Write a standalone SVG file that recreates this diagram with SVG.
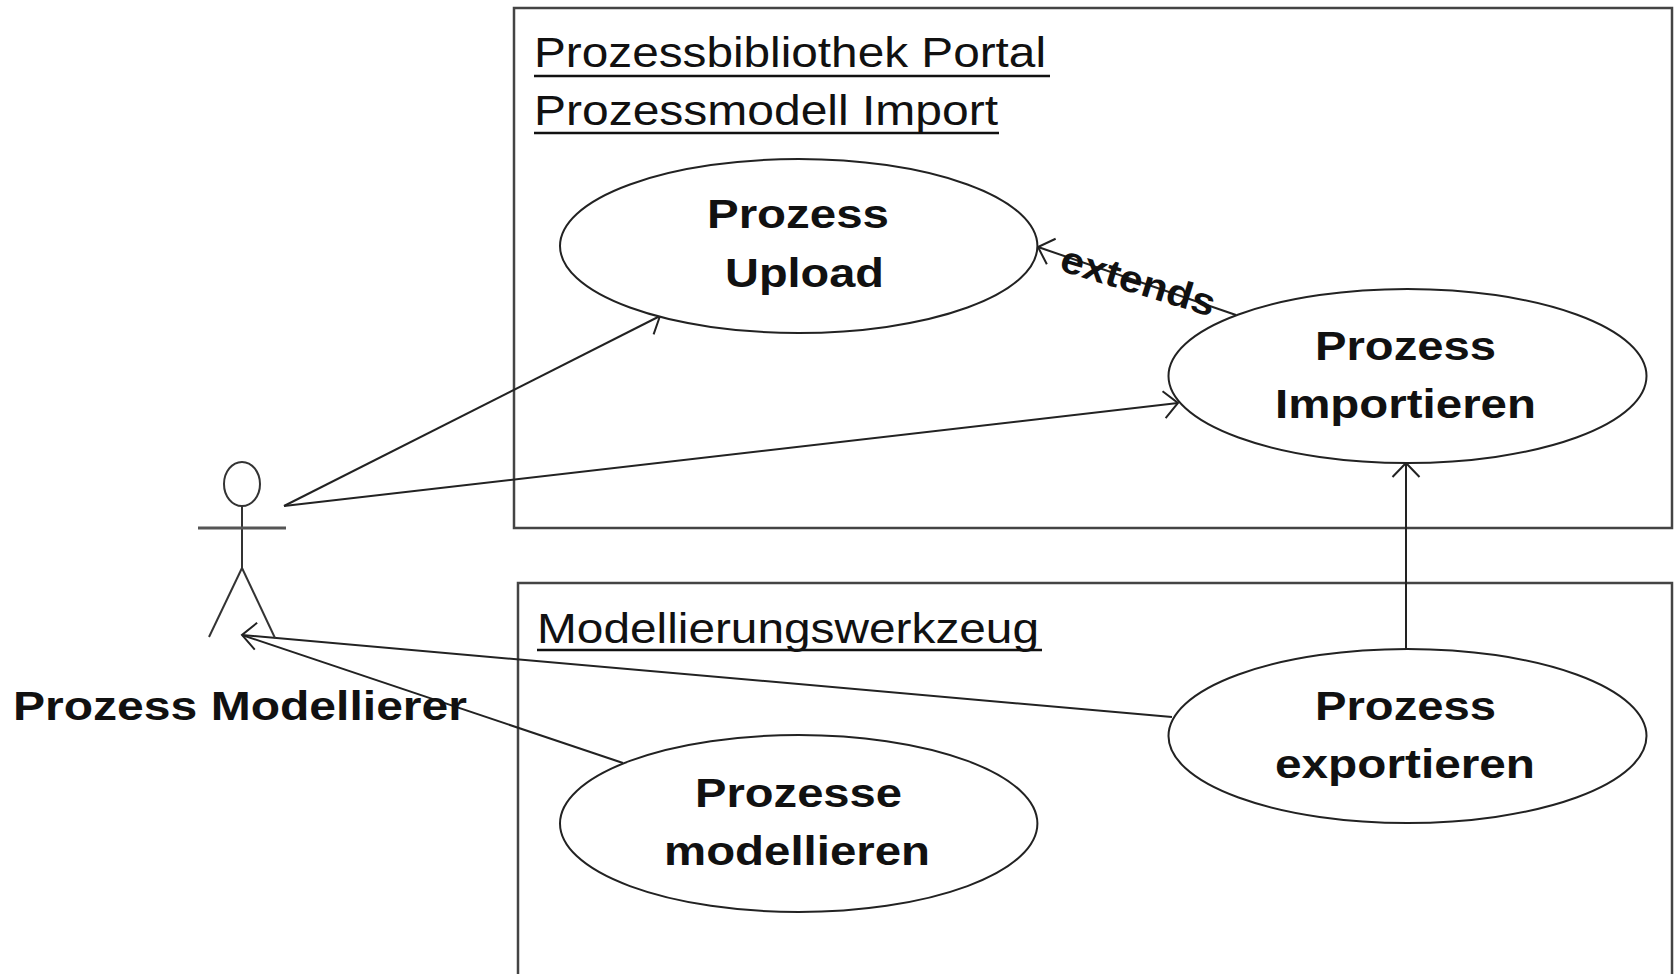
<svg xmlns="http://www.w3.org/2000/svg" width="1677" height="974" viewBox="0 0 1677 974">
<style>
.box{fill:none;stroke:#444;stroke-width:2.5}
.uc{fill:#fff;stroke:#222;stroke-width:2}
.title{font-family:"Liberation Sans",Arial,sans-serif;font-size:43px;fill:#111}
.ul{stroke:#111;stroke-width:2.5}
.lbl{font-family:"Liberation Sans",Arial,sans-serif;font-size:41px;font-weight:bold;fill:#111}
.conn{fill:none;stroke:#222;stroke-width:2}
.actor{fill:none;stroke:#333;stroke-width:2}
</style>
<defs>
<marker id="open" markerUnits="userSpaceOnUse" markerWidth="20" markerHeight="30" refX="14" refY="0" viewBox="-2 -15 20 30" orient="auto" overflow="visible">
<path d="M0,-13.5 L14,0 L0,13.5" fill="none" stroke="#222" stroke-width="2"/>
</marker>
</defs>
<rect width="1677" height="974" fill="#fff"/>

<g id="portal">
<rect class="box" x="514" y="8" width="1158" height="520"/>
<text class="title" x="534" y="67" textLength="512" lengthAdjust="spacingAndGlyphs">Prozessbibliothek Portal</text>
<line class="ul" x1="534" y1="76" x2="1050" y2="76"/>
<text class="title" x="534" y="125" textLength="464" lengthAdjust="spacingAndGlyphs">Prozessmodell Import</text>
<line class="ul" x1="534" y1="133" x2="999" y2="133"/>
</g>

<g id="werkzeug">
<rect class="box" x="518" y="583" width="1154" height="420"/>
<text class="title" x="537" y="643" textLength="502" lengthAdjust="spacingAndGlyphs">Modellierungswerkzeug</text>
<line class="ul" x1="537" y1="650" x2="1042" y2="650"/>
</g>

<g id="connectors">
<line class="conn" x1="284" y1="506" x2="660" y2="316" marker-end="url(#open)"/>
<line class="conn" x1="284" y1="506" x2="1178" y2="403" marker-end="url(#open)"/>
<line class="conn" x1="1236" y1="315" x2="1038" y2="247" marker-end="url(#open)"/>
<line class="conn" x1="1406" y1="649" x2="1406" y2="463" marker-end="url(#open)" stroke="#555" stroke-width="2.5"/>
<line class="conn" x1="1172" y1="717" x2="242" y2="635" marker-end="url(#open)"/>
<line class="conn" x1="623" y1="763" x2="242" y2="635"/>
<text x="1058" y="270" transform="rotate(17 1058 270)" font-family="Liberation Sans, Arial, sans-serif" font-size="38" font-weight="bold" fill="#111" textLength="160" lengthAdjust="spacingAndGlyphs">extends</text>
</g>

<g id="upload">
<ellipse class="uc" cx="798.7" cy="246" rx="238.7" ry="87"/>
<text class="lbl" x="707" y="228" textLength="182" lengthAdjust="spacingAndGlyphs">Prozess</text>
<text class="lbl" x="725" y="287" textLength="159" lengthAdjust="spacingAndGlyphs">Upload</text>
</g>

<g id="importieren">
<ellipse class="uc" cx="1407.5" cy="376" rx="239" ry="87"/>
<text class="lbl" x="1315" y="360" textLength="181" lengthAdjust="spacingAndGlyphs">Prozess</text>
<text class="lbl" x="1275" y="418" textLength="261" lengthAdjust="spacingAndGlyphs">Importieren</text>
</g>

<g id="exportieren">
<ellipse class="uc" cx="1407.5" cy="736" rx="239" ry="87"/>
<text class="lbl" x="1315" y="720" textLength="181" lengthAdjust="spacingAndGlyphs">Prozess</text>
<text class="lbl" x="1275" y="778" textLength="260" lengthAdjust="spacingAndGlyphs">exportieren</text>
</g>

<g id="modellieren">
<ellipse class="uc" cx="798.7" cy="823.5" rx="238.7" ry="88.5"/>
<text class="lbl" x="695" y="807" textLength="207" lengthAdjust="spacingAndGlyphs">Prozesse</text>
<text class="lbl" x="664" y="865" textLength="266" lengthAdjust="spacingAndGlyphs">modellieren</text>
</g>

<g id="actor">
<ellipse class="actor" cx="242" cy="484" rx="18" ry="22"/>
<line class="actor" x1="242" y1="506" x2="242" y2="568"/>
<line x1="198" y1="528" x2="286" y2="528" stroke="#555" stroke-width="3"/>
<line class="actor" x1="242" y1="568" x2="209" y2="637"/>
<line class="actor" x1="242" y1="568" x2="275" y2="638"/>
<text class="lbl" x="13" y="720" font-size="44" textLength="454" lengthAdjust="spacingAndGlyphs">Prozess Modellierer</text>
</g>
</svg>
